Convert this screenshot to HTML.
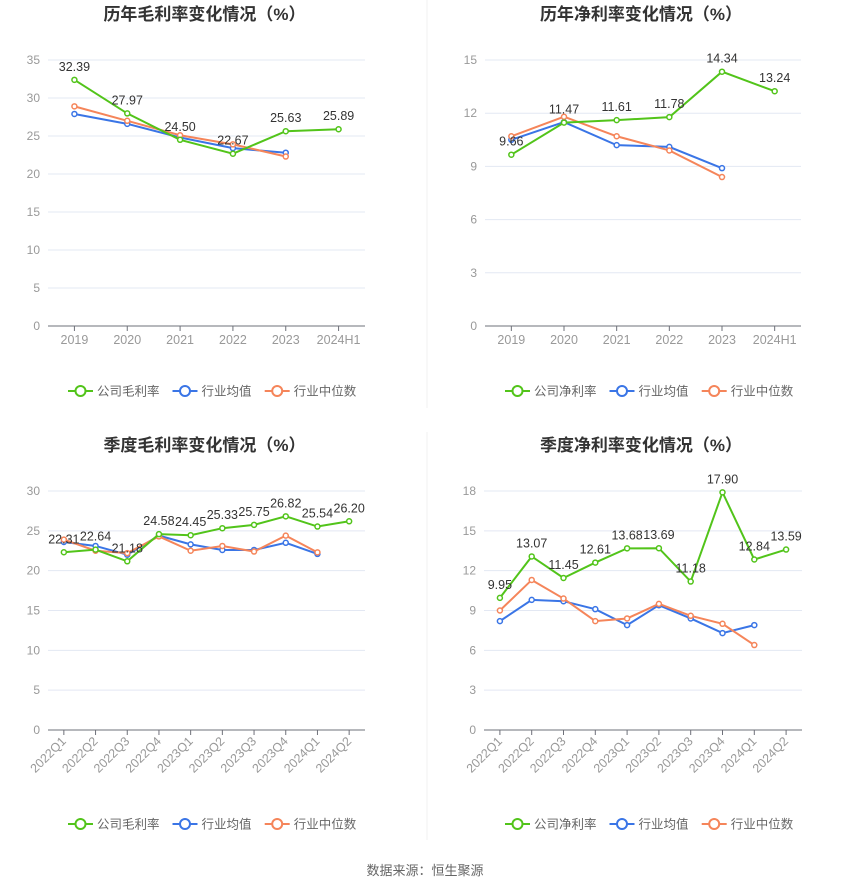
<!DOCTYPE html>
<html><head><meta charset="utf-8">
<style>
body{margin:0;background:#fff;font-family:"Liberation Sans","Noto Sans CJK SC",sans-serif;}
#root{position:relative;width:850px;height:891px;}
svg text{font-family:"Liberation Sans","Noto Sans CJK SC",sans-serif;}
</style></head>
<body><div id="root">
<svg id="svg" width="850" height="891"></svg>
</div>
<script>
const c1Cats=["2019","2020","2021","2022","2023","2024H1"];
const c1Company=[32.39,27.97,24.50,22.67,25.63,25.89];
const c1Avg=[27.9,26.6,24.8,23.4,22.8];
const c1Med=[28.9,27.0,25.1,23.9,22.3];
const c1Ticks=[0,5,10,15,20,25,30,35];

const c2Cats=["2019","2020","2021","2022","2023","2024H1"];
const c2Company=[9.66,11.47,11.61,11.78,14.34,13.24];
const c2Avg=[10.5,11.5,10.2,10.1,8.9];
const c2Med=[10.7,11.8,10.7,9.9,8.4];
const c2Ticks=[0,3,6,9,12,15];

const qCats=["2022Q1","2022Q2","2022Q3","2022Q4","2023Q1","2023Q2","2023Q3","2023Q4","2024Q1","2024Q2"];
const c3Company=[22.31,22.64,21.18,24.58,24.45,25.33,25.75,26.82,25.54,26.20];
const c3Avg=[23.6,23.1,22.0,24.4,23.3,22.6,22.6,23.5,22.1];
const c3Med=[23.9,22.5,22.2,24.3,22.5,23.1,22.4,24.4,22.3];
const c3Ticks=[0,5,10,15,20,25,30];

const c4Company=[9.95,13.07,11.45,12.61,13.68,13.69,11.18,17.90,12.84,13.59];
const c4Avg=[8.2,9.8,9.7,9.1,7.9,9.4,8.4,7.3,7.9];
const c4Med=[9.0,11.3,9.9,8.2,8.4,9.5,8.6,8.0,6.4];
const c4Ticks=[0,3,6,9,12,15,18];

const NS="http://www.w3.org/2000/svg";
const svg=document.getElementById('svg');
function mk(tag,attrs,parent){const e=document.createElementNS(NS,tag);for(const k in attrs)e.setAttribute(k,attrs[k]);(parent||svg).appendChild(e);return e;}
const GREEN="#52c41a",BLUE="#3a75e6",ORANGE="#f5855a";

function chart(o){
  const g=mk('g',{});
  
  
  const max=o.ticks[o.ticks.length-1];
  const y=v=>o.y0-(v/max)*(o.y0-o.y1);
  const bw=(o.right-o.left)/o.cats.length;
  const x=i=>o.left+bw*(i+0.5);
  const t=mk('text',{x:(o.left+o.right)/2-2,y:o.titleY,'text-anchor':'middle','font-size':17,'font-weight':'bold',fill:'#333'},g);
  t.textContent=o.title;
  
  
  o.ticks.forEach(v=>{
    if(v>0){const l=mk('line',{x1:o.left,x2:o.right,y1:y(v),y2:y(v),stroke:'#e3e8f3','stroke-width':1},g);
    }
    const tt=mk('text',{x:o.left-8,y:y(v)+4,'text-anchor':'end','font-size':12,fill:'#999'},g);
    tt.textContent=v;
    
    
  });
  const ax=mk('line',{x1:o.left,x2:o.right,y1:o.y0,y2:o.y0,stroke:'#6e7079','stroke-width':1},g);
  
  o.cats.forEach((c,i)=>{
    mk('line',{x1:x(i),x2:x(i),y1:o.y0,y2:o.y0+5,stroke:'#6e7079'},g);
    let tt;
    if(o.rotate){tt=mk('text',{x:x(i)+3,y:o.y0+12,'text-anchor':'end','font-size':12.5,fill:'#999',transform:`rotate(-45 ${x(i)+3} ${o.y0+12})`},g);}
    else tt=mk('text',{x:x(i),y:o.y0+18,'text-anchor':'middle','font-size':12.5,fill:'#999'},g);
    tt.textContent=c;
    
    
  });
  function series(vals,col,name){
    const pts=vals.map((v,i)=>x(i)+','+y(v)).join(' ');
    const pl=mk('polyline',{points:pts,fill:'none',stroke:col,'stroke-width':2},g);
    
    
    vals.forEach((v,i)=>{
      const c=mk('circle',{cx:x(i),cy:y(v),r:2.5,fill:'#fff',stroke:col,'stroke-width':1.5},g);
      
      
    });
  }
  series(o.avg,BLUE,'industry-average');
  series(o.med,ORANGE,'industry-median');
  series(o.comp,GREEN,'company');
  o.comp.forEach((v,i)=>{
    const tt=mk('text',{x:x(i),y:y(v)-9,'text-anchor':'middle','font-size':12.5,fill:'#333'},g);
    tt.textContent=v.toFixed(2);
    
    
  });
  const items=[[o.compName,GREEN],["行业均值",BLUE],["行业中位数",ORANGE]];
  let lx=o.legendX;
  items.forEach(([n,col])=>{
    const lg=mk('g',{},g);
    
    
    mk('line',{x1:lx,x2:lx+25,y1:o.legendY,y2:o.legendY,stroke:col,'stroke-width':2},lg);
    mk('circle',{cx:lx+12.5,cy:o.legendY,r:5,fill:'#fff',stroke:col,'stroke-width':2},lg);
    const tt=mk('text',{x:lx+29,y:o.legendY+4.5,'font-size':12.5,fill:'#666'},lg);
    tt.textContent=n;
    lx+=29+n.length*12.3+14;
  });
}
chart({name:'annual-gross-margin-chart',title:'历年毛利率变化情况（%）',titleY:20,cats:c1Cats,comp:c1Company,avg:c1Avg,med:c1Med,ticks:c1Ticks,left:48,right:365,y0:326,y1:60,legendX:68,legendY:391,compName:'公司毛利率'});
chart({name:'annual-net-margin-chart',title:'历年净利率变化情况（%）',titleY:20,cats:c2Cats,comp:c2Company,avg:c2Avg,med:c2Med,ticks:c2Ticks,left:485,right:801,y0:326,y1:60,legendX:505,legendY:391,compName:'公司净利率'});
chart({name:'quarterly-gross-margin-chart',title:'季度毛利率变化情况（%）',titleY:451,cats:qCats,comp:c3Company,avg:c3Avg,med:c3Med,ticks:c3Ticks,left:48,right:365,y0:730,y1:491,legendX:68,legendY:824,compName:'公司毛利率',rotate:true});
chart({name:'quarterly-net-margin-chart',title:'季度净利率变化情况（%）',titleY:451,cats:qCats,comp:c4Company,avg:c4Avg,med:c4Med,ticks:c4Ticks,left:484,right:802,y0:730,y1:491,legendX:505,legendY:824,compName:'公司净利率',rotate:true});
const d1=mk('line',{x1:427,x2:427,y1:0,y2:408,stroke:'#f0f0f0'});

const d2=mk('line',{x1:427,x2:427,y1:432,y2:840,stroke:'#f0f0f0'});

const src=mk('text',{x:425,y:875,'text-anchor':'middle','font-size':13,fill:'#666'});
src.textContent='数据来源：恒生聚源';


</script>
</body></html>
